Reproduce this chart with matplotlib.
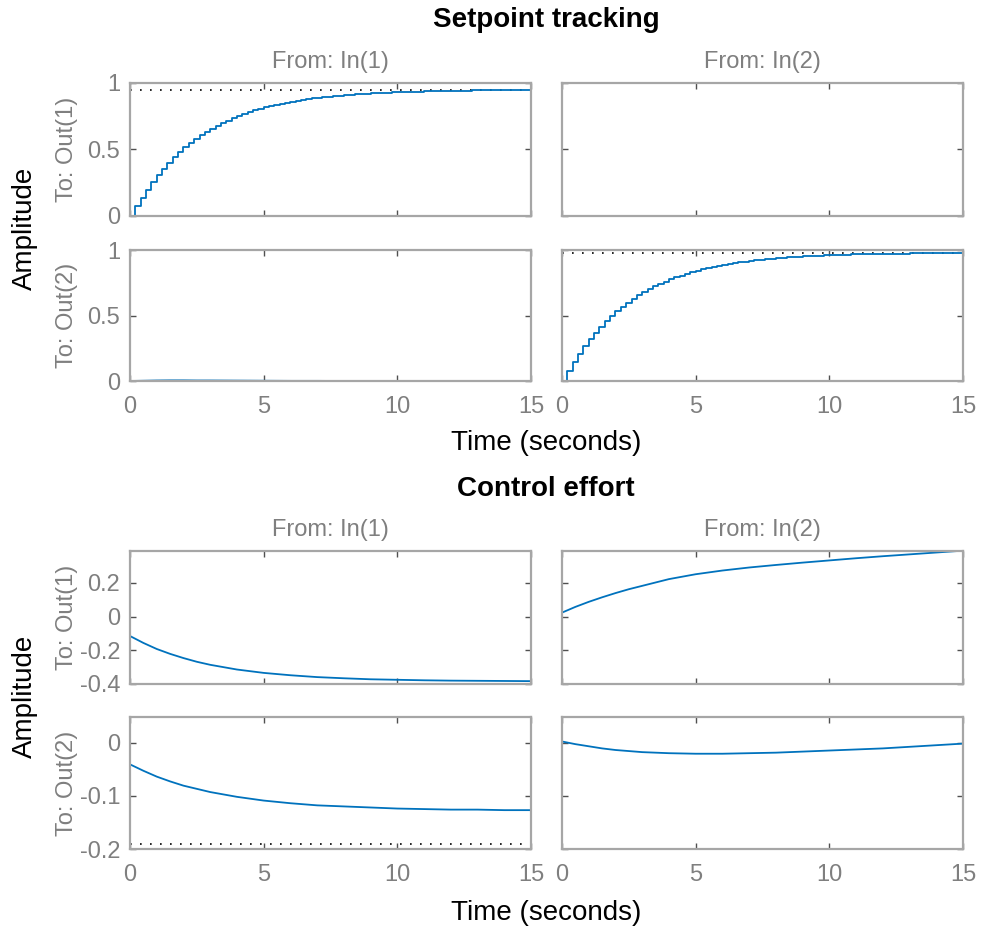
import numpy as np
import matplotlib
import matplotlib.pyplot as plt

matplotlib.use("Agg")

# sample times (Ts = 0.2 s) for the staircase responses
t_step = np.round(np.arange(76) * 0.2, 1)
# coarser time points for the smooth-looking responses
t_smooth = [0, 0.5, 1, 1.5, 2, 2.5, 3, 4, 5, 6, 7, 8, 9, 10, 11, 12, 13, 14, 15]

# Setpoint tracking, In(1) -> Out(1)
sp_11 = [0, 0.072, 0.138, 0.199, 0.256, 0.308, 0.357, 0.401, 0.443, 0.481,
         0.516, 0.549, 0.579, 0.607, 0.633, 0.657, 0.679, 0.700, 0.718, 0.736,
         0.752, 0.767, 0.781, 0.794, 0.805, 0.816, 0.826, 0.836, 0.844, 0.852,
         0.860, 0.866, 0.873, 0.879, 0.884, 0.889, 0.894, 0.898, 0.902, 0.905,
         0.909, 0.912, 0.915, 0.917, 0.920, 0.922, 0.924, 0.926, 0.928, 0.930,
         0.931, 0.933, 0.934, 0.935, 0.936, 0.937, 0.938, 0.939, 0.940, 0.941,
         0.941, 0.942, 0.943, 0.943, 0.944, 0.944, 0.945, 0.945, 0.945, 0.946,
         0.946, 0.946, 0.947, 0.947, 0.947, 0.947]
# Setpoint tracking, In(2) -> Out(2)
sp_22 = [0, 0.074, 0.142, 0.205, 0.264, 0.318, 0.368, 0.414, 0.457, 0.496,
         0.533, 0.566, 0.598, 0.626, 0.653, 0.678, 0.701, 0.722, 0.741, 0.759,
         0.776, 0.791, 0.805, 0.818, 0.831, 0.842, 0.852, 0.862, 0.871, 0.879,
         0.887, 0.894, 0.900, 0.906, 0.912, 0.917, 0.922, 0.926, 0.930, 0.934,
         0.937, 0.941, 0.944, 0.946, 0.949, 0.951, 0.953, 0.955, 0.957, 0.959,
         0.961, 0.962, 0.963, 0.965, 0.966, 0.967, 0.968, 0.969, 0.970, 0.970,
         0.971, 0.972, 0.972, 0.973, 0.973, 0.974, 0.974, 0.975, 0.975, 0.976,
         0.976, 0.976, 0.977, 0.977, 0.977, 0.977]
# cross couplings (almost zero)
sp_21 = [0, 0.002, 0.004, 0.005, 0.005, 0.004, 0.004, 0.003, 0.002, 0.001,
         0.001, 0, 0, 0, 0, 0, 0, 0, 0]
sp_12 = [0, -0.001, -0.002, -0.002, -0.002, -0.002, -0.002, -0.002, -0.001,
         -0.001, -0.001, -0.001, 0, 0, 0, 0, 0, 0, 0]
sp_final = {"11": 0.95, "22": 0.98}

# Control effort
ce_11 = [-0.115, -0.156, -0.192, -0.221, -0.246, -0.268, -0.286, -0.314, -0.334,
         -0.348, -0.359, -0.366, -0.372, -0.375, -0.378, -0.380, -0.381, -0.382, -0.383]
ce_12 = [0.024, 0.058, 0.088, 0.115, 0.140, 0.163, 0.183, 0.223, 0.252, 0.274,
         0.292, 0.307, 0.321, 0.334, 0.347, 0.359, 0.370, 0.381, 0.392]
ce_21 = [-0.041, -0.053, -0.064, -0.073, -0.081, -0.087, -0.093, -0.102, -0.109,
         -0.114, -0.118, -0.120, -0.122, -0.124, -0.125, -0.126, -0.126, -0.127, -0.127]
ce_22 = [0.002, -0.003, -0.007, -0.011, -0.014, -0.016, -0.018, -0.020, -0.021,
         -0.021, -0.020, -0.019, -0.017, -0.015, -0.013, -0.011, -0.008, -0.005, -0.002]
ce_final_21 = -0.19

xticks = [0, 5, 10, 15]

BLUE = "#0072BD"
GREY_TXT = "#7f7f7f"
GREY_BOX = "#a6a6a6"

plt.rcParams["font.family"] = ["Liberation Sans", "DejaVu Sans"]

fig = plt.figure(figsize=(9.83, 9.31), dpi=100)

W, H = 983.0, 931.0
cols = [130, 562]
col_w = 401
rows = [(83, 216), (250, 381), (551, 684), (717, 849)]


def make_ax(col, row):
    x0 = cols[col]
    top, bot = rows[row]
    ax = fig.add_axes([x0 / W, 1 - bot / H, col_w / W, (bot - top) / H])
    for s in ax.spines.values():
        s.set_color(GREY_BOX)
        s.set_linewidth(1.6)
    ax.tick_params(direction="in", top=True, right=True, length=4, width=1,
                   color="#505050", labelcolor=GREY_TXT, labelsize=17)
    ax.tick_params(axis="x", pad=11)
    ax.tick_params(axis="y", pad=7)
    ax.set_xlim(0, 15)
    ax.set_xticks(xticks)
    return ax


def dotted(ax, y):
    ax.axhline(y, color="black", lw=1.2, ls=(0, (1, 5)), zorder=1)


axs = {}
for r in range(4):
    for c in range(2):
        axs[(r, c)] = make_ax(c, r)

LW = 1.3

# --- Setpoint tracking ---
ax = axs[(0, 0)]
dotted(ax, sp_final["11"])
ax.plot(t_step, sp_11, color=BLUE, lw=LW, drawstyle="steps-post")
ax = axs[(0, 1)]
ax.plot(t_smooth, sp_12, color=BLUE, lw=LW)
ax = axs[(1, 0)]
ax.plot(t_smooth, sp_21, color=BLUE, lw=LW)
ax = axs[(1, 1)]
dotted(ax, sp_final["22"])
ax.plot(t_step, sp_22, color=BLUE, lw=LW, drawstyle="steps-post")

for r in (0, 1):
    for c in (0, 1):
        axs[(r, c)].set_ylim(0, 1)
        axs[(r, c)].set_yticks([0, 0.5, 1])
        axs[(r, c)].set_yticklabels(["0", "0.5", "1"])

# --- Control effort ---
axs[(2, 0)].plot(t_smooth, ce_11, color=BLUE, lw=LW)
axs[(2, 1)].plot(t_smooth, ce_12, color=BLUE, lw=LW)
dotted(axs[(3, 0)], ce_final_21)
axs[(3, 0)].plot(t_smooth, ce_21, color=BLUE, lw=LW)
axs[(3, 1)].plot(t_smooth, ce_22, color=BLUE, lw=LW)

for c in (0, 1):
    axs[(2, c)].set_ylim(-0.4, 0.39)
    axs[(2, c)].set_yticks([-0.4, -0.2, 0, 0.2])
    axs[(2, c)].set_yticklabels(["-0.4", "-0.2", "0", "0.2"])
    axs[(3, c)].set_ylim(-0.2, 0.048)
    axs[(3, c)].set_yticks([-0.2, -0.1, 0])
    axs[(3, c)].set_yticklabels(["-0.2", "-0.1", "0"])

# tick label visibility
for (r, c), ax in axs.items():
    if c == 1:
        ax.tick_params(labelleft=False)
    if r in (0, 2):
        ax.tick_params(labelbottom=False)
    else:
        ax.set_xticklabels([str(v) for v in xticks])

# channel labels
for r0 in (0, 2):
    axs[(r0, 0)].set_title("From: In(1)", color=GREY_TXT, fontsize=17, pad=11)
    axs[(r0, 1)].set_title("From: In(2)", color=GREY_TXT, fontsize=17, pad=11)
for r, name in ((0, "To: Out(1)"), (1, "To: Out(2)"), (2, "To: Out(1)"), (3, "To: Out(2)")):
    ax = axs[(r, 0)]
    ax.set_ylabel(name, color=GREY_TXT, fontsize=17)
    ax.yaxis.set_label_coords(-0.13, 0.5)

# section titles and shared labels
fig.text(546 / W, 1 - 20 / H, "Setpoint tracking", ha="center", va="center",
         fontsize=20, fontweight="bold")
fig.text(546 / W, 1 - 489 / H, "Control effort", ha="center", va="center",
         fontsize=20, fontweight="bold")
fig.text(546 / W, 1 - 443 / H, "Time (seconds)", ha="center", va="center", fontsize=20)
fig.text(546 / W, 1 - 913 / H, "Time (seconds)", ha="center", va="center", fontsize=20)
fig.text(25 / W, 1 - 228 / H, "Amplitude", ha="center", va="center",
         rotation=90, fontsize=20)
fig.text(25 / W, 1 - 696 / H, "Amplitude", ha="center", va="center",
         rotation=90, fontsize=20)

fig.savefig("out.png", dpi=100)
